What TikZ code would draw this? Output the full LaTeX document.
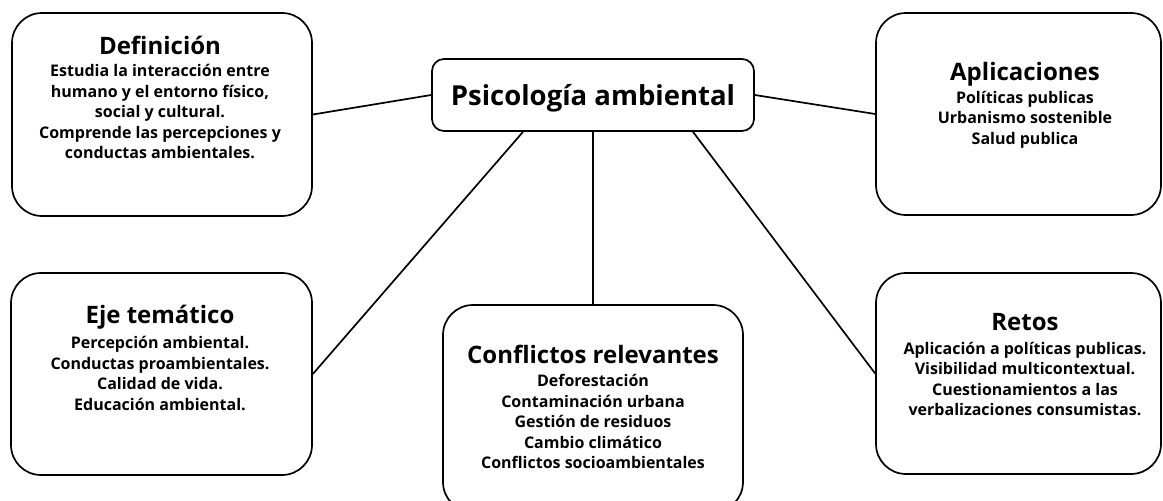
\documentclass[tikz,border=0pt]{standalone}
\usepackage{fontspec}
\setmainfont{Open Sans}
\newcommand\bstrut{\rule{0pt}{17pt}}
\tikzset{
  box/.style={draw, line width=1.7pt, rounded corners=30pt, inner sep=0pt, fill=white},
  cbox/.style={draw, line width=1.7pt, rounded corners=12pt, inner sep=0pt, fill=white},
  ttl/.style={anchor=base, inner sep=0pt, font=\bfseries\fontsize{24}{28}\selectfont},
  mainttl/.style={anchor=base, inner sep=0pt, font=\bfseries\fontsize{27.5}{32}\selectfont},
  body/.style={anchor=north, inner sep=0pt, align=center, font=\bfseries\fontsize{16}{20.5}\selectfont},
  link/.style={line width=1.7pt}
}
\begin{document}
\begin{tikzpicture}[x=1pt,y=-1pt]
\useasboundingbox (0,0) rectangle (1163,501);
% boxes
\node[box, minimum width=300pt, minimum height=203pt] (def) at (162,114.5) {};
\node[box, minimum width=285pt, minimum height=202pt] (apl) at (1018.5,114) {};
\node[box, minimum width=301pt, minimum height=202pt] (eje) at (161.5,374) {};
\node[box, minimum width=300pt, minimum height=207pt] (con) at (593,408.5) {};
\node[box, minimum width=285pt, minimum height=201pt] (ret) at (1018.5,373.5) {};
\node[cbox, minimum width=322pt, minimum height=72pt] (psi) at (593,95) {};
% connectors
\draw[link] (def.east) -- (psi.west);
\draw[link] (psi.east) -- (apl.west);
\draw[link] ([xshift=-70pt]psi.south) -- (eje.east);
\draw[link] (psi.south) -- (con.north);
\draw[link] ([xshift=100pt]psi.south) -- (ret.west);
% texts
\node[mainttl] (psit) at (593,105) {Psicología ambiental};
\node[ttl] (deft) at (160,54) {Definición};
\node[body] (defb) at (160,59.7) {\bstrut Estudia la interacción entre\\humano y el entorno físico,\\social y cultural.\\Comprende las percepciones y\\conductas ambientales.};
\node[ttl] (aplt) at (1025,80) {Aplicaciones};
\node[body] (aplb) at (1025,86) {\bstrut Políticas publicas\\Urbanismo sostenible\\Salud publica};
\node[ttl] (ejet) at (160,323) {Eje temático};
\node[body] (ejeb) at (160,331.3) {\bstrut Percepción ambiental.\\Conductas proambientales.\\Calidad de vida.\\Educación ambiental.};
\node[ttl] (cont) at (593,363) {Conflictos relevantes};
\node[body] (conb) at (593,369.7) {\bstrut Deforestación\\Contaminación urbana\\Gestión de residuos\\Cambio climático\\Conflictos socioambientales};
\node[ttl] (rett) at (1025,330) {Retos};
\node[body] (retb) at (1025,337) {\bstrut Aplicación a políticas publicas.\\Visibilidad multicontextual.\\Cuestionamientos a las\\verbalizaciones consumistas.};
\end{tikzpicture}
\end{document}
